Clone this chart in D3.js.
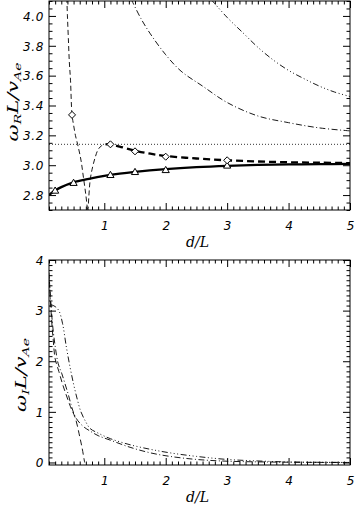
<!DOCTYPE html>
<html><head><meta charset="utf-8">
<script src="https://cdn.jsdelivr.net/npm/d3@7"></script>
<style>body{margin:0;background:#fff} svg{display:block}</style>
</head><body><svg id="c" width="356" height="506"></svg>
<script>
// ---------- data ----------
const xTickValues = [1, 2, 3, 4, 5];
const topYTickValues = [2.8, 3.0, 3.2, 3.4, 3.6, 3.8, 4.0];
const botYTickValues = [0, 1, 2, 3, 4];

// top panel (omega_R)
const solidD = [0.1, 0.2, 0.3, 0.5, 0.75, 1.0, 1.25, 1.5, 2.0, 2.5, 3.0, 3.5, 4.0, 4.5, 5.0];
const solidV = [2.80, 2.83, 2.853, 2.885, 2.908, 2.928, 2.944, 2.956, 2.974, 2.987, 2.996, 3.002, 3.005, 3.007, 3.009];
const thickDashD = [1.02, 1.1, 1.25, 1.5, 1.75, 2.0, 2.5, 3.0, 3.5, 4.0, 4.5, 5.0];
const thickDashV = [3.14, 3.14, 3.125, 3.097, 3.077, 3.062, 3.045, 3.033, 3.025, 3.02, 3.017, 3.014];
const thinDashAD = [0.39, 0.40, 0.415, 0.43, 0.45, 0.475, 0.50, 0.53, 0.566, 0.62, 0.66, 0.70, 0.73];
const thinDashAV = [4.12, 4.0, 3.85, 3.7, 3.57, 3.337, 3.27, 3.2, 3.14, 3.035, 2.92, 2.8, 2.69];
const thinDashBD = [0.735, 0.75, 0.77, 0.80, 0.85, 0.90, 0.96, 1.02];
const thinDashBV = [2.69, 2.8, 2.9, 2.97, 3.05, 3.105, 3.132, 3.14];
const dashDotTopD = [1.44, 1.6, 1.75, 2.0, 2.25, 2.6, 3.0, 3.5, 4.0, 4.5, 5.0];
const dashDotTopV = [4.11, 3.98, 3.88, 3.74, 3.63, 3.53, 3.42, 3.33, 3.285, 3.25, 3.23];
const dash3DotTopD = [2.74, 3.0, 3.25, 3.5, 3.75, 4.0, 4.25, 4.5, 4.75, 5.0];
const dash3DotTopV = [4.11, 3.99, 3.89, 3.79, 3.705, 3.635, 3.58, 3.53, 3.49, 3.46];
const piLevel = [3.14];
const triD = [0.2, 0.5, 1.1, 1.5, 2.0, 3.0];
const triV = [2.83, 2.882, 2.935, 2.955, 2.968, 2.998];
const diaD = [0.475, 1.1, 1.5, 2.0, 3.0];
const diaV = [3.337, 3.14, 3.093, 3.057, 3.033];

// bottom panel (omega_I)
const dashBotD = [0.1, 0.12, 0.14, 0.17, 0.2, 0.26, 0.32, 0.37, 0.45, 0.53, 0.6, 0.64, 0.68];
const dashBotV = [3.75, 3.3, 2.85, 2.4, 2.05, 1.8, 1.55, 1.37, 1.1, 0.87, 0.51, 0.28, 0.0];
const dashDotBotD = [0.1, 0.13, 0.16, 0.2, 0.25, 0.31, 0.4, 0.53, 0.65, 0.77, 0.9, 1.1, 1.42, 1.75, 2.07, 2.5, 3.0, 4.0, 5.0];
const dashDotBotV = [3.65, 3.15, 2.7, 2.3, 1.95, 1.75, 1.4, 0.9, 0.72, 0.62, 0.53, 0.44, 0.3, 0.19, 0.12, 0.06, 0.025, 0.005, 0.0];
const dash3DotBotD = [0.13, 0.2, 0.26, 0.32, 0.38, 0.44, 0.5, 0.56, 0.62, 0.7, 0.77, 0.9, 1.1, 1.42, 1.75, 2.07, 2.5, 3.0, 3.5, 4.0, 5.0];
const dash3DotBotV = [3.12, 3.08, 3.0, 2.75, 2.3, 1.9, 1.55, 1.25, 1.0, 0.8, 0.67, 0.58, 0.47, 0.35, 0.26, 0.19, 0.12, 0.06, 0.03, 0.01, 0.0];

// ---------- drawing ----------
const svg = d3.select("#c");
const X0 = 49, X1 = 350;
const zip = (a, b) => a.map((d, i) => [d, b[i]]);
const rnd = v => Math.round(v * 1000) / 1000;

function panel(id, yDomain, yTop, yBot, yMajor, yMinorStep, fmt) {
  const x = d3.scaleLinear().domain([0.1, 5]).range([X0, X1]);
  const y = d3.scaleLinear().domain(yDomain).range([yBot, yTop]);
  const g = svg.append("g");
  svg.append("clipPath").attr("id", id).append("rect")
    .attr("x", X0).attr("y", yTop).attr("width", X1 - X0).attr("height", yBot - yTop);
  const plot = g.append("g").attr("clip-path", `url(#${id})`);

  const xMinor = d3.range(1, 51).map(v => rnd(v / 10)).filter(v => !xTickValues.includes(v));
  const yMinor = d3.range(Math.round(yDomain[0] / yMinorStep), Math.round(yDomain[1] / yMinorStep) + 1)
    .map(v => rnd(v * yMinorStep)).filter(v => v >= yDomain[0] && v <= yDomain[1] && !yMajor.some(m => Math.abs(m - v) < 1e-6));

  const styleAxis = sel => { sel.select(".domain").remove(); sel.selectAll("line").attr("stroke", "#000").attr("stroke-width", 1); };

  g.append("g").attr("transform", `translate(0,${yBot})`)
    .call(d3.axisBottom(x).tickValues(xTickValues).tickSize(-7).tickFormat(d3.format("d")))
    .call(styleAxis)
    .call(s => s.selectAll("text").attr("y", 19.5).attr("dy", 0)
      .attr("font-family", "DejaVu Sans").attr("font-style", "italic").attr("font-size", 12).attr("fill", "#000"));
  g.append("g").attr("transform", `translate(0,${yBot})`)
    .call(d3.axisBottom(x).tickValues(xMinor).tickSize(-3.5).tickFormat("")).call(styleAxis);
  g.append("g").attr("transform", `translate(0,${yTop})`)
    .call(d3.axisTop(x).tickValues(xTickValues).tickSize(-7).tickFormat("")).call(styleAxis);
  g.append("g").attr("transform", `translate(0,${yTop})`)
    .call(d3.axisTop(x).tickValues(xMinor).tickSize(-3.5).tickFormat("")).call(styleAxis);
  g.append("g").attr("transform", `translate(${X0},0)`)
    .call(d3.axisLeft(y).tickValues(yMajor).tickSize(-7).tickFormat(fmt))
    .call(styleAxis)
    .call(s => s.selectAll("text").attr("x", -5).attr("dy", "0.36em")
      .attr("font-family", "DejaVu Sans").attr("font-style", "italic").attr("font-size", 12)
      .attr("letter-spacing", 0.6).attr("fill", "#000"));
  g.append("g").attr("transform", `translate(${X0},0)`)
    .call(d3.axisLeft(y).tickValues(yMinor).tickSize(-3.5).tickFormat("")).call(styleAxis);
  g.append("g").attr("transform", `translate(${X1},0)`)
    .call(d3.axisRight(y).tickValues(yMajor).tickSize(-7).tickFormat("")).call(styleAxis);
  g.append("g").attr("transform", `translate(${X1},0)`)
    .call(d3.axisRight(y).tickValues(yMinor).tickSize(-3.5).tickFormat("")).call(styleAxis);
  g.append("rect").attr("x", X0).attr("y", yTop).attr("width", X1 - X0).attr("height", yBot - yTop)
    .attr("fill", "none").attr("stroke", "#000").attr("stroke-width", 1);

  g.append("text").attr("x", 197.5).attr("y", yBot + 36.5).attr("text-anchor", "middle")
    .attr("font-family", "DejaVu Serif").attr("font-style", "italic").attr("font-size", 14)
    .text("d/L");

  return { x, y, plot, g };
}

function curve(p, d, v, width, dash, smooth = true) {
  const line = d3.line().x(q => p.x(q[0])).y(q => p.y(q[1]))
    .curve(smooth ? d3.curveCatmullRom.alpha(0.5) : d3.curveLinear);
  p.plot.append("path").attr("d", line(zip(d, v)))
    .attr("fill", "none").attr("stroke", "#000").attr("stroke-width", width)
    .attr("stroke-dasharray", dash);
}

function yTitle(g, cx, cy, sub) {
  const t = g.append("text").attr("transform", `translate(${cx},${cy}) rotate(-90) scale(1.4,1)`)
    .attr("text-anchor", "middle").attr("font-family", "DejaVu Serif").attr("font-style", "italic")
    .attr("font-size", 15);
  t.append("tspan").text("ω");
  t.append("tspan").attr("font-size", 10).attr("dy", 3).text(sub);
  t.append("tspan").attr("dy", -3).text("L/v");
  t.append("tspan").attr("font-size", 10).attr("dy", 3).text("Ae");
}

// ---- top panel ----
const T = panel("clipT", [2.7, 4.1], 1, 210, topYTickValues, 0.05, d3.format(".1f"));
curve(T, [0.1, 5], [piLevel[0], piLevel[0]], 0.8, "1,2", false);
curve(T, dash3DotTopD, dash3DotTopV, 0.9, "6,2.5,1,2.5,1,2.5,1,2.5");
curve(T, dashDotTopD, dashDotTopV, 0.9, "6,2.5,1,2.5");
curve(T, thinDashAD, thinDashAV, 0.9, "5,3");
curve(T, thinDashBD, thinDashBV, 0.9, "5,3");
curve(T, thickDashD, thickDashV, 2.3, "7,4");
curve(T, solidD, solidV, 2.3, null);
T.plot.selectAll(".tri").data(zip(triD, triV)).join("path")
  .attr("transform", q => `translate(${T.x(q[0])},${T.y(q[1])})`)
  .attr("d", "M0,-3.6L3.6,2.6L-3.6,2.6Z").attr("fill", "#fff").attr("stroke", "#000").attr("stroke-width", 1);
T.plot.selectAll(".dia").data(zip(diaD, diaV)).join("path")
  .attr("transform", q => `translate(${T.x(q[0])},${T.y(q[1])})`)
  .attr("d", "M0,-3.5L3.5,0L0,3.5L-3.5,0Z").attr("fill", "#fff").attr("stroke", "#000").attr("stroke-width", 1);
yTitle(T.g, 18, 102, "R");

// ---- bottom panel ----
const B = panel("clipB", [-0.05, 4.0], 260, 465, botYTickValues, 0.1, d3.format("d"));
curve(B, dash3DotBotD, dash3DotBotV, 0.9, "6,2.5,1,2.5,1,2.5,1,2.5");
curve(B, dashDotBotD, dashDotBotV, 0.9, "6,2.5,1,2.5");
curve(B, dashBotD, dashBotV, 0.9, "6,3.5");
yTitle(B.g, 26, 375, "I");
</script></body></html>
